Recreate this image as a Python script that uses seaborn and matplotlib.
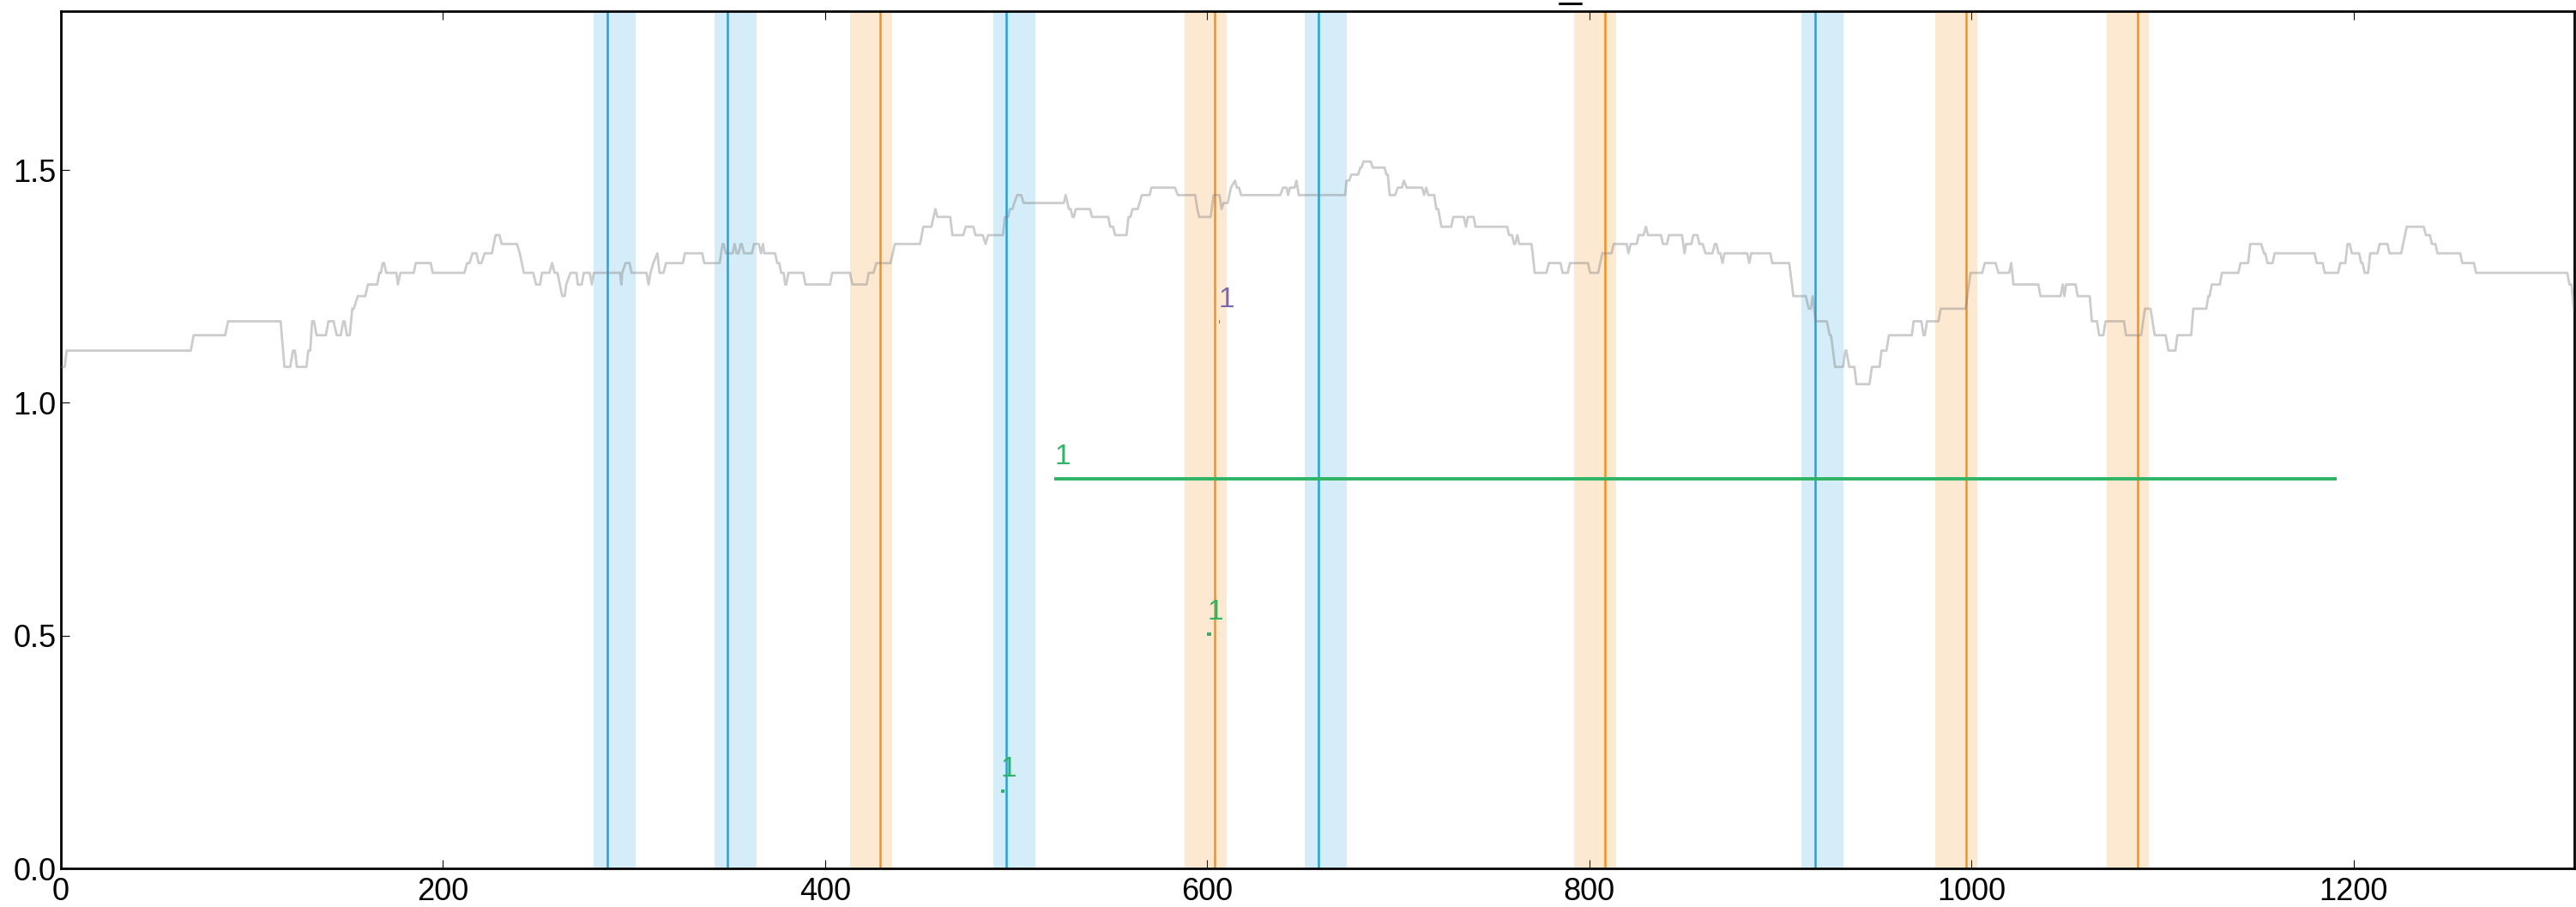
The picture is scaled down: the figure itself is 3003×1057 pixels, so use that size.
import matplotlib
matplotlib.use('Agg')
import seaborn as sns
import matplotlib.pyplot as plt

# grey trace, corner points
trace_x = [0, 2, 3, 68, 69.5, 86, 87.5, 115, 117, 120, 121.5, 122.5, 123.5, 128.5, 129.5, 130.5, 131.5, 132.5,
           133.8, 138.7, 140, 142.7, 144.4, 146.5, 147.8, 148.5, 149.7, 151.2, 152.5, 153.3, 155.4, 159.3, 160.7,
           165.6, 166.7, 167.5, 168.4, 169.2, 170.3, 175.6, 176.4, 177.7, 184.7, 185.7, 193.6, 194.6, 211.2, 212.6,
           213.9, 215.4, 217.5, 218.6, 220.1, 221.8, 225.6, 227.5, 229.6, 230.7, 238.7, 240.2, 242.3, 247.2, 248.7,
           250.8, 251.8, 255.7, 257.1, 258.4, 259.9, 262.4, 263.7, 264.5, 266.7, 269.9, 270.5, 272.6, 273.7, 276.8,
           277.9, 278.9, 292.7, 293.3, 293.8, 295.5, 297.6, 298.7, 306.5, 307.6, 308.6, 310.1, 312.2, 313.3, 315.4,
           316.7, 325.6, 326.6,
           335.7, 336.7, 344.8, 346.3, 346.9, 348, 351.6, 352.6, 353.7, 354.7, 355.8, 356.4, 357.5, 361.7, 362.8,
           365.3, 366.4, 367.5, 368.1, 373.8, 374.9, 376, 377, 378.3, 379.1, 379.7, 380.8, 388.6, 389.7, 402.6,
           403.7, 413, 414.3, 421.7, 422.8, 425.3, 426.8, 434.2, 436.5, 449.7, 451.4, 455.6, 457.7, 458.8, 465.5,
           466.6, 472.3, 473.6, 477.6, 478.7, 482.5, 484, 485.3, 493.1, 494.1, 495.8, 496.7, 498, 499, 500.5, 502.6,
           503.9, 524.9, 525.9, 527.6, 528.5, 529.5, 530.2, 531.2, 538.6, 539.7, 548.2, 549.2, 550.7, 551.8, 557.7,
           558.8, 559.8, 560.9, 563.6, 565.8, 569.8, 570.8, 583.1, 584.6, 593.7, 594.8, 595.8, 601.8, 603.3, 606.4,
           607.5, 608.5, 610.7, 612.4, 614.5, 615.5, 616.6, 617.7, 638.2, 639.7, 641.5, 642.3, 643.3, 645.7, 646.7,
           647.9,
           672.2, 672.9, 674.3, 675.4, 679, 680.1, 680.7, 681.8, 685.6, 686.6, 692.8, 693.8, 694.5, 695.5, 698.3,
           699.8, 701.9, 702.9, 704.4, 712.5, 713.5, 714.6, 715.7, 718.8, 719.9, 720.9, 722.6, 727.7, 728.8, 734.3,
           735.4, 736.4, 739.4, 740.4, 757, 758, 759.5, 760.6, 761.2, 762.3, 763.3, 769.7, 770.3, 771.4, 777.5,
           778.8, 784.9, 786, 788.7, 789.8, 799.3, 800.4, 804.6, 806.8, 811.6, 812.7, 819.5, 820.5, 821.6, 824.8,
           825.8, 828.4, 829.6, 830.7, 837.5, 838.5, 840.6, 841.7, 848.5, 849.8, 850.6, 853.4, 854.4, 856.5, 857.6,
           859.3, 860.8, 864.4, 865.7, 866.5, 867.6, 868.6, 869.7, 870.7, 882.6, 883.7, 884.7, 894.7, 895.7, 904.6,
           906.8, 913.3, 914.8, 915.9, 916.9, 918.4, 924.3, 925.8, 926.5, 928.6, 932.8, 933.9, 934.5, 936, 938.7,
           939.8, 946.6, 947.9, 951.9, 952.9, 955.5, 956.8, 968.8,
           969.7, 973.8, 974.9, 975.6, 976.7, 982.7, 983.9, 996.9, 999.5, 1005.6, 1007, 1012.6, 1014.1, 1019.7,
           1020.8, 1022, 1035, 1036.1, 1046.6, 1047.8, 1048.6, 1049.5, 1054.5, 1055.6, 1061.9, 1063, 1065.7, 1066.8,
           1069, 1070.2, 1079.8, 1080.9, 1088.8, 1090.8, 1093.7, 1095.9, 1101.6, 1103.1, 1106.7, 1107.8, 1115,
           1116.1, 1122.9, 1124, 1124.6, 1125.8, 1130, 1131.1, 1139.7, 1140.8, 1144.8, 1145.9, 1151.6, 1153.1,
           1153.8, 1154.9, 1157.6, 1158.7, 1179.6, 1180.7, 1183.8, 1184.9, 1191.9, 1193, 1195.7, 1196.8, 1198,
           1199.1, 1202.9, 1204, 1204.7, 1205.8, 1207.6, 1208.7, 1212.5, 1213.6, 1217.7, 1218.8, 1224.9, 1227.8,
           1236.7, 1237.9, 1239.9, 1241, 1242.8, 1243.9, 1255.8, 1256.9, 1263, 1264.1, 1311.8, 1313, 1314.1, 1315.2]
trace_y = [1.077, 1.077, 1.112, 1.112, 1.145, 1.145, 1.175, 1.175, 1.077, 1.077, 1.112, 1.112, 1.077, 1.077, 1.112,
           1.112, 1.175, 1.175, 1.145, 1.145, 1.175, 1.175, 1.145, 1.145, 1.175, 1.175, 1.145, 1.145, 1.202, 1.202,
           1.229, 1.229, 1.254, 1.254, 1.279, 1.279, 1.300, 1.300, 1.279, 1.279, 1.254, 1.279, 1.279, 1.300, 1.300,
           1.279, 1.279, 1.300, 1.300, 1.321, 1.321, 1.300, 1.300, 1.321, 1.321, 1.360, 1.360, 1.341, 1.341, 1.321,
           1.279, 1.279, 1.254, 1.254, 1.279, 1.279, 1.300, 1.279, 1.279, 1.229, 1.229, 1.254, 1.279, 1.279, 1.254,
           1.254, 1.279, 1.279, 1.254, 1.279, 1.279, 1.254, 1.279, 1.300, 1.300, 1.279, 1.279, 1.254, 1.279, 1.300,
           1.321, 1.279, 1.279, 1.300, 1.300, 1.321,
           1.321, 1.300, 1.300, 1.341, 1.341, 1.321, 1.321, 1.341, 1.321, 1.321, 1.341, 1.341, 1.321, 1.321, 1.341,
           1.341, 1.321, 1.341, 1.321, 1.321, 1.300, 1.300, 1.279, 1.279, 1.254, 1.254, 1.279, 1.279, 1.254, 1.254,
           1.279, 1.279, 1.254, 1.254, 1.279, 1.279, 1.300, 1.300, 1.341, 1.341, 1.378, 1.378, 1.416, 1.399, 1.399,
           1.360, 1.360, 1.378, 1.378, 1.360, 1.360, 1.341, 1.360, 1.360, 1.399, 1.399, 1.416, 1.416, 1.429, 1.446,
           1.446, 1.429, 1.429, 1.446, 1.416, 1.416, 1.399, 1.399, 1.416, 1.416, 1.399, 1.399, 1.378, 1.378, 1.360,
           1.360, 1.399, 1.399, 1.416, 1.416, 1.446, 1.446, 1.462, 1.462, 1.446, 1.446, 1.416, 1.399, 1.399, 1.446,
           1.446, 1.416, 1.429, 1.429, 1.462, 1.477, 1.462, 1.462, 1.446, 1.446, 1.462, 1.462, 1.446, 1.462, 1.462,
           1.477, 1.446,
           1.446, 1.477, 1.477, 1.490, 1.490, 1.505, 1.505, 1.518, 1.518, 1.505, 1.505, 1.490, 1.490, 1.446, 1.446,
           1.462, 1.462, 1.477, 1.462, 1.462, 1.446, 1.462, 1.446, 1.446, 1.416, 1.416, 1.378, 1.378, 1.399, 1.399,
           1.378, 1.399, 1.399, 1.378, 1.378, 1.360, 1.360, 1.341, 1.341, 1.360, 1.341, 1.341, 1.321, 1.279, 1.279,
           1.300, 1.300, 1.279, 1.279, 1.300, 1.300, 1.279, 1.279, 1.321, 1.321, 1.341, 1.341, 1.321, 1.341, 1.341,
           1.360, 1.360, 1.378, 1.360, 1.360, 1.341, 1.341, 1.360, 1.360, 1.321, 1.341, 1.341, 1.360, 1.360, 1.341,
           1.341, 1.321, 1.321, 1.341, 1.341, 1.321, 1.321, 1.300, 1.321, 1.321, 1.300, 1.321, 1.321, 1.300, 1.300,
           1.229, 1.229, 1.202, 1.202, 1.229, 1.175, 1.175, 1.145, 1.145, 1.077, 1.077, 1.112, 1.112, 1.077, 1.077,
           1.040, 1.040, 1.077, 1.077, 1.112, 1.112, 1.145, 1.145,
           1.175, 1.175, 1.145, 1.145, 1.175, 1.175, 1.202, 1.202, 1.279, 1.279, 1.300, 1.300, 1.279, 1.279,
           1.300, 1.254, 1.254, 1.229, 1.229, 1.254, 1.229, 1.254, 1.254, 1.229, 1.229, 1.175, 1.175, 1.145,
           1.145, 1.175, 1.175, 1.145, 1.145, 1.202, 1.202, 1.145, 1.145, 1.112, 1.112, 1.145, 1.145,
           1.202, 1.202, 1.229, 1.229, 1.254, 1.254, 1.279, 1.279, 1.300, 1.300, 1.341, 1.341, 1.321,
           1.321, 1.300, 1.300, 1.321, 1.321, 1.300, 1.300, 1.279, 1.279, 1.300, 1.300, 1.341, 1.341,
           1.321, 1.321, 1.300, 1.300, 1.279, 1.279, 1.321, 1.321, 1.341, 1.341, 1.321, 1.321, 1.378,
           1.378, 1.360, 1.360, 1.341, 1.341, 1.321, 1.321, 1.300, 1.300, 1.279, 1.279, 1.254, 1.254, 1.202]

# event markers: line position and shaded window
blue_lines = [286, 349, 495, 658, 918]
blue_lo = [279, 342, 488, 651, 911]
blue_hi = [301, 364, 510, 673, 933]
orange_lines = [429, 604, 808, 997, 1087]
orange_lo = [413, 588, 792, 981, 1071]
orange_hi = [435, 610, 814, 1003, 1093]

# labelled segments
seg_start = [520, 600, 492, 606]
seg_end = [1191, 602, 494, 606.7]
seg_y = [0.837, 0.503, 0.166, 1.174]
seg_label = ['1', '1', '1', '1']
seg_color = ['#2db464', '#2db464', '#2db464', '#7b68b0']

sns.set_style('ticks')
plt.rcParams['font.family'] = ['Liberation Sans', 'DejaVu Sans']

fig = plt.figure(figsize=(30.03, 10.57), dpi=100)
ax = fig.add_axes([0.02364, 0.04257, 0.97569, 0.94513])

for lo, hi in zip(blue_lo, blue_hi):
    ax.axvspan(lo, hi, color='#29a8e0', alpha=0.2, lw=0, zorder=1)
for lo, hi in zip(orange_lo, orange_hi):
    ax.axvspan(lo, hi, color='#f7931e', alpha=0.2, lw=0, zorder=1)
for x in blue_lines:
    ax.axvline(x, color='#1ea4e0', lw=1.8, zorder=2)
for x in orange_lines:
    ax.axvline(x, color='#f7901a', lw=1.8, zorder=2)

sns.lineplot(x=trace_x, y=trace_y, ax=ax, sort=False, estimator=None,
             color='#808080', alpha=0.4, lw=2.0, zorder=3)

for s, e, y, lab, c in zip(seg_start, seg_end, seg_y, seg_label, seg_color):
    ax.plot([s, e], [y, y], color=c, lw=2.8, solid_capstyle='butt', zorder=4)
    ax.text(s, y + 0.031, lab, color=c, fontsize=24, ha='left', va='baseline', zorder=5)

ax.set_xlim(0, 1315.5)
ax.set_ylim(0, 1.841)
ax.set_xticks([0, 200, 400, 600, 800, 1000, 1200])
ax.set_yticks([0.0, 0.5, 1.0, 1.5])
ax.tick_params(axis='both', direction='in', length=7, width=0.8, colors='black', labelsize=26)
ax.tick_params(axis='x', top=True, bottom=True, pad=7)
ax.tick_params(axis='y', left=True, right=False, pad=4)
for sp in ax.spines.values():
    sp.set_color('black')
    sp.set_linewidth(2.0)
    sp.set_visible(True)

fig.text(0.6097, 1.0024, '_', fontsize=34, ha='center', va='baseline', color='black')

fig.savefig('out.png', dpi=100, facecolor='white')
